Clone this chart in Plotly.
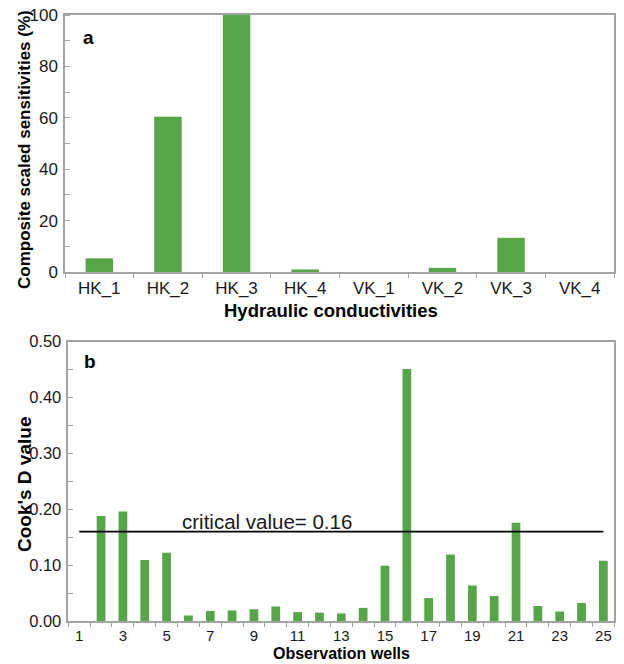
import plotly.graph_objects as go

# Panel a: composite scaled sensitivities of hydraulic conductivity parameters
param_names = ["HK_1", "HK_2", "HK_3", "HK_4", "VK_1", "VK_2", "VK_3", "VK_4"]
css_percent = [5.3, 60.4, 100.0, 1.0, 0.0, 1.6, 13.3, 0.0]

# Panel b: Cook's D for each observation well
well_ids = list(range(1, 26))
cooks_d = [0.0, 0.188, 0.196, 0.109, 0.122, 0.010, 0.018, 0.019, 0.021, 0.026,
           0.016, 0.015, 0.0135, 0.0235, 0.099, 0.451, 0.041, 0.119, 0.0635,
           0.0447, 0.176, 0.027, 0.017, 0.032, 0.108]
critical_value = 0.16
well_tick_labels = list(range(1, 26, 2))

BAR = "#56a548"
FRAME = "#a3a3a3"
FONT = "Arial, Liberation Sans, sans-serif"

W, H = 624, 664


def px_x(p):
    return p / W


def px_y(p):
    return 1 - p / H


fig = go.Figure()

fig.add_trace(go.Bar(x=param_names, y=css_percent, marker_color=BAR,
                     marker_line_width=0, xaxis="x", yaxis="y",
                     showlegend=False))
fig.add_trace(go.Bar(x=well_ids, y=cooks_d, marker_color=BAR,
                     marker_line_width=0, xaxis="x2", yaxis="y2",
                     showlegend=False))
fig.add_trace(go.Scatter(x=[well_ids[0], well_ids[-1]],
                         y=[critical_value, critical_value], mode="lines",
                         line=dict(color="black", width=1.6),
                         xaxis="x2", yaxis="y2", showlegend=False,
                         hoverinfo="skip"))

frame = dict(showline=True, linecolor=FRAME, linewidth=1.5, mirror=True,
             showgrid=False, zeroline=False, automargin=False)
top_ticks = dict(family=FONT, size=17, color="#1a1a1a")
left_ticks = dict(family=FONT, size=16.5, color="#1a1a1a")
well_ticks = dict(family=FONT, size=15, color="#1a1a1a")

fig.update_layout(
    template="none",
    width=W, height=H,
    margin=dict(l=0, r=0, t=0, b=0, autoexpand=False),
    paper_bgcolor="white", plot_bgcolor="white",
    bargap=0.6,
    xaxis=dict(domain=[px_x(65), px_x(614)], anchor="y", type="category",
               tickson="boundaries", ticks="outside", ticklen=4,
               tickcolor=FRAME, tickwidth=1, tickfont=top_ticks, **frame),
    yaxis=dict(domain=[px_y(272), px_y(15)], anchor="x", range=[0, 100],
               tickvals=[0, 20, 40, 60, 80, 100], ticks="",
               minor=dict(dtick=10, tick0=0, ticks="inside", ticklen=5,
                          tickcolor=FRAME, tickwidth=1),
               ticklabelstandoff=2, tickfont=top_ticks, **frame),
    xaxis2=dict(domain=[px_x(68.3), px_x(614.3)], anchor="y2",
                range=[0.5, 25.5], tickvals=well_tick_labels, ticks="",
                minor=dict(tick0=0.5, dtick=1, ticks="outside", ticklen=4,
                           tickcolor=FRAME, tickwidth=1),
                tickfont=well_ticks, **frame),
    yaxis2=dict(domain=[px_y(621), px_y(341.7)], anchor="x2",
                range=[0, 0.5], tickvals=[0, 0.1, 0.2, 0.3, 0.4, 0.5],
                tickformat=".2f", ticks="",
                minor=dict(dtick=0.05, tick0=0, ticks="inside", ticklen=5,
                           tickcolor=FRAME, tickwidth=1),
                ticklabelstandoff=2, tickfont=left_ticks, **frame),
)

bold = dict(family=FONT, color="black")
annotations = [
    # panel letters
    dict(text="<b>a</b>", x=px_x(81), y=px_y(37), xref="paper", yref="paper",
         xanchor="left", yanchor="middle", showarrow=False,
         font=dict(size=19, **bold)),
    dict(text="<b>b</b>", x=px_x(82), y=px_y(361), xref="paper", yref="paper",
         xanchor="left", yanchor="middle", showarrow=False,
         font=dict(size=19, **bold)),
    # axis titles
    dict(text="<b>Composite scaled sensitivities (%)</b>", x=px_x(24),
         y=px_y(150), xref="paper", yref="paper", textangle=-90,
         xanchor="center", yanchor="middle", showarrow=False,
         font=dict(size=17, **bold)),
    dict(text="<b>Hydraulic conductivities</b>", x=px_x(330.5), y=px_y(310),
         xref="paper", yref="paper", xanchor="center", yanchor="middle",
         showarrow=False, font=dict(size=18.5, **bold)),
    dict(text="<b>Cook's D value</b>", x=px_x(24), y=px_y(485),
         xref="paper", yref="paper", textangle=-90, xanchor="center",
         yanchor="middle", showarrow=False, font=dict(size=19, **bold)),
    dict(text="<b>Observation wells</b>", x=px_x(341.5), y=0,
         xref="paper", yref="paper", xanchor="center", yanchor="bottom",
         showarrow=False, font=dict(size=16, **bold)),
    # critical value label sitting on the threshold line
    dict(text=f"critical value= {critical_value:.2f}", x=5.6,
         y=critical_value, xref="x2", yref="y2", xanchor="left",
         yanchor="bottom", yshift=-3, showarrow=False,
         font=dict(family=FONT, size=20.5, color="#1a1a1a")),
]
fig.update_layout(annotations=annotations)

fig.write_html("out.html")
